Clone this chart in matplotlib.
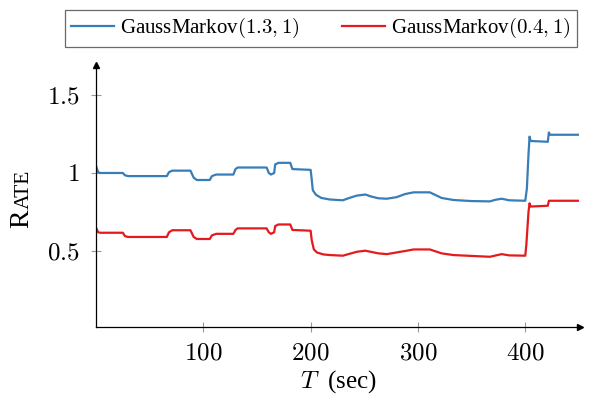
import matplotlib
matplotlib.use('Agg')
import matplotlib.pyplot as plt

plt.rcParams['mathtext.fontset'] = 'cm'
plt.rcParams['font.family'] = 'Liberation Serif'

# time (sec) and rate
t_blue = [0, 2, 4, 25, 27, 30, 66, 68, 71, 88, 91, 94, 106, 108, 112, 128, 130, 132,
          159, 161, 163, 166, 167, 170, 181, 183, 200, 201, 202, 205, 210, 218, 230,
          236, 243, 251, 256, 263, 271, 280, 288, 296, 311, 316, 322, 333, 350, 367,
          372, 378, 385, 400, 401.5, 403, 404, 405, 421, 422, 423, 449]
rate_blue = [1.047, 1.005, 1.0, 1.0, 0.985, 0.98, 0.98, 1.005, 1.015, 1.015, 0.97, 0.955,
             0.955, 0.98, 0.99, 0.99, 1.025, 1.035, 1.035, 1.0, 0.99, 1.0, 1.055, 1.065,
             1.065, 1.025, 1.02, 0.96, 0.89, 0.86, 0.84, 0.83, 0.825, 0.84, 0.855, 0.862,
             0.85, 0.838, 0.835, 0.845, 0.865, 0.876, 0.876, 0.86, 0.84, 0.827, 0.82,
             0.818, 0.828, 0.835, 0.825, 0.822, 0.9, 1.12, 1.233, 1.205, 1.2, 1.26, 1.245,
             1.245]

t_red = [0, 2, 4, 25, 27, 30, 66, 68, 71, 88, 91, 94, 106, 108, 112, 128, 130, 132,
         159, 161, 163, 166, 167, 170, 181, 183, 200, 201, 203, 206, 212, 218, 230,
         243, 251, 263, 271, 288, 296, 311, 322, 333, 367, 378, 385, 400, 401, 403,
         404, 405, 421, 422, 449]
rate_red = [0.65, 0.62, 0.617, 0.617, 0.595, 0.59, 0.59, 0.62, 0.633, 0.633, 0.59, 0.577,
            0.577, 0.6, 0.61, 0.61, 0.635, 0.645, 0.645, 0.62, 0.61, 0.62, 0.66, 0.67,
            0.67, 0.635, 0.63, 0.57, 0.51, 0.49, 0.478, 0.474, 0.47, 0.495, 0.502, 0.485,
            0.48, 0.5, 0.51, 0.51, 0.485, 0.474, 0.463, 0.48, 0.472, 0.47, 0.54, 0.75,
            0.806, 0.785, 0.79, 0.822, 0.822]

xticks = [100, 200, 300, 400]
yticks = [0.5, 1, 1.5]

fig = plt.figure(figsize=(6.05, 4.07), dpi=100)
ax = fig.add_axes([96 / 605, 80 / 407, 484 / 605, 262 / 407])

ax.plot(t_blue, rate_blue, color='#377eb8', lw=1.6, label=r'GaussMarkov$(1.3, 1)$')
ax.plot(t_red, rate_red, color='#e41a1c', lw=1.6, label=r'GaussMarkov$(0.4, 1)$')

ax.set_xlim(0, 451)
ax.set_ylim(0.013, 1.692)

for s in ['top', 'right']:
    ax.spines[s].set_visible(False)
for s in ['left', 'bottom']:
    ax.spines[s].set_linewidth(0.9)
ax.plot(1, 0, '>', color='black', ms=5, transform=ax.transAxes, clip_on=False)
ax.plot(0, 1, '^', color='black', ms=5, transform=ax.transAxes, clip_on=False)

ax.set_xticks(xticks)
ax.set_xticklabels(['$%d$' % v for v in xticks])
ax.set_yticks(yticks)
ax.set_yticklabels(['$%g$' % v for v in yticks])
ax.tick_params(direction='inout', length=7, width=0.8, color='#999999',
               labelsize=18)
ax.tick_params(axis='x', pad=8)
ax.tick_params(axis='y', pad=8)

ax.set_xlabel(r'$T$  (sec)', fontsize=18, labelpad=2)

# small-caps "RATE"
r = fig.text(0.056, 0.44, 'R', fontsize=20, rotation=90, ha='right', va='bottom')
ax.annotate('ATE', xy=(1, 1), xycoords=r, fontsize=15.5, rotation=90,
            ha='right', va='bottom')

fig.legend(loc='upper left', bbox_to_anchor=(65 / 605, 1 - 10 / 407), ncol=2,
           fontsize=15, frameon=True, fancybox=False, edgecolor='#444444',
           handlelength=2.07, columnspacing=2.07, borderpad=0.3, handletextpad=0.25,
           borderaxespad=0)
fig.legends[0].get_frame().set_linewidth(0.9)

fig.savefig('out.png', dpi=100)
